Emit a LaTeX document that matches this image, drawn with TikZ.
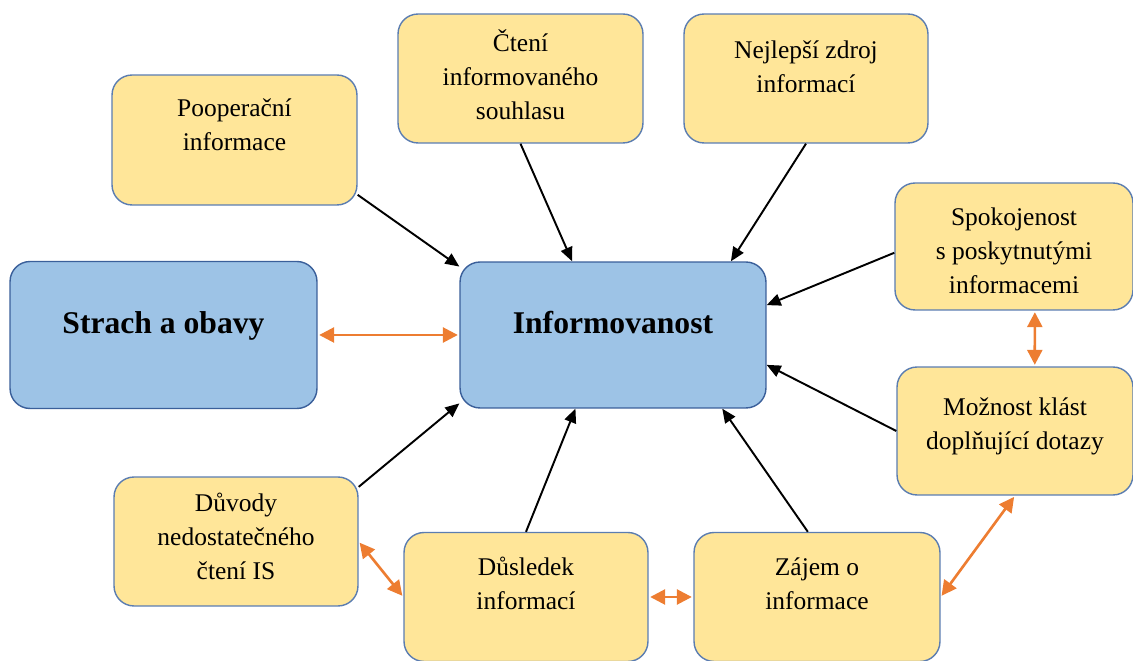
\documentclass[tikz,border=0pt]{standalone}
\usepackage{fontspec}
\setmainfont{Liberation Serif}
\usetikzlibrary{arrows.meta}
\definecolor{boxyellow}{HTML}{FFE699}
\definecolor{boxline}{HTML}{5B7DB1}
\definecolor{coreblue}{HTML}{9DC3E6}
\definecolor{coreline}{HTML}{3A5F9A}
\definecolor{linkorange}{HTML}{ED7D31}
% box text: width, height, top gap, lines
\newcommand{\cell}[4]{\begin{minipage}[c][#2][t]{#1}\centering\vspace*{#3}#4\end{minipage}}
\tikzset{
  topic/.style={draw=boxline,fill=boxyellow,rounded corners=0.4cm,line width=0.8pt,inner sep=0pt,
    font=\fontsize{14.5}{19.3}\selectfont},
  core/.style={topic,draw=coreline,fill=coreblue,font=\fontsize{18}{22}\selectfont\bfseries},
  link/.style={-{Triangle[length=0.28cm,width=0.24cm]},line width=1.1pt},
  mutual/.style={{Triangle[length=0.3cm,width=0.3cm]}-{Triangle[length=0.3cm,width=0.3cm]},
    draw=linkorange,line width=1.5pt,shorten <=0.03cm,shorten >=0.03cm}
}
\begin{document}
\begin{tikzpicture}[x=0.02cm,y=-0.02cm]
  \useasboundingbox (0,0) rectangle (1133,661);
  % blue boxes
  \node[core] (info) at (613,335) {\cell{6.12cm}{2.92cm}{0.98cm}{Informovanost}};
  \node[core] (strach) at (163.5,335) {\cell{6.14cm}{2.94cm}{1cm}{Strach a obavy}};
  % yellow boxes
  \node[topic] (pooper) at (234.5,140) {\cell{4.9cm}{2.6cm}{0.47cm}{Pooperační\\informace}};
  \node[topic] (cteni) at (520.5,78.5) {\cell{4.9cm}{2.58cm}{0.32cm}{Čtení\\informovaného\\souhlasu}};
  \node[topic] (zdroj) at (806,78.5) {\cell{4.88cm}{2.58cm}{0.54cm}{Nejlepší zdroj\\informací}};
  \node[topic] (spokoj) at (1014,246.5) {\cell{4.76cm}{2.54cm}{0.5cm}{Spokojenost\\s poskytnutými\\informacemi}};
  \node[topic] (dotazy) at (1015,431) {\cell{4.72cm}{2.56cm}{0.62cm}{Možnost klást\\doplňující dotazy}};
  \node[topic] (duvody) at (236,541.5) {\cell{4.88cm}{2.58cm}{0.32cm}{Důvody\\nedostatečného\\čtení IS}};
  \node[topic] (dusledek) at (526,597) {\cell{4.88cm}{2.58cm}{0.5cm}{Důsledek\\informací}};
  \node[topic] (zajem) at (817,597) {\cell{4.92cm}{2.58cm}{0.5cm}{Zájem o\\informace}};
  % black arrows into Informovanost
  \draw[link] (pooper.-24) -- (info.156);
  \draw[link] (cteni.south) -- (info.119);
  \draw[link] (zdroj.south) -- (info.32);
  \draw[link] (spokoj.183) -- (info.11);
  \draw[link] (dotazy.west) -- (info.-11);
  \draw[link] (zajem.98) -- (info.-34);
  \draw[link] (dusledek.north) -- (info.-117);
  \draw[link] (duvody.24) -- (info.204);
  % orange two-way arrows
  \draw[mutual] (strach.east) -- (info.west);
  \draw[mutual] (spokoj.-72) -- (dotazy.73);
  \draw[mutual] (dotazy.south) -- (zajem.east);
  \draw[mutual] (dusledek.east) -- (zajem.west);
  \draw[mutual] (duvody.east) -- (dusledek.west);
\end{tikzpicture}
\end{document}
